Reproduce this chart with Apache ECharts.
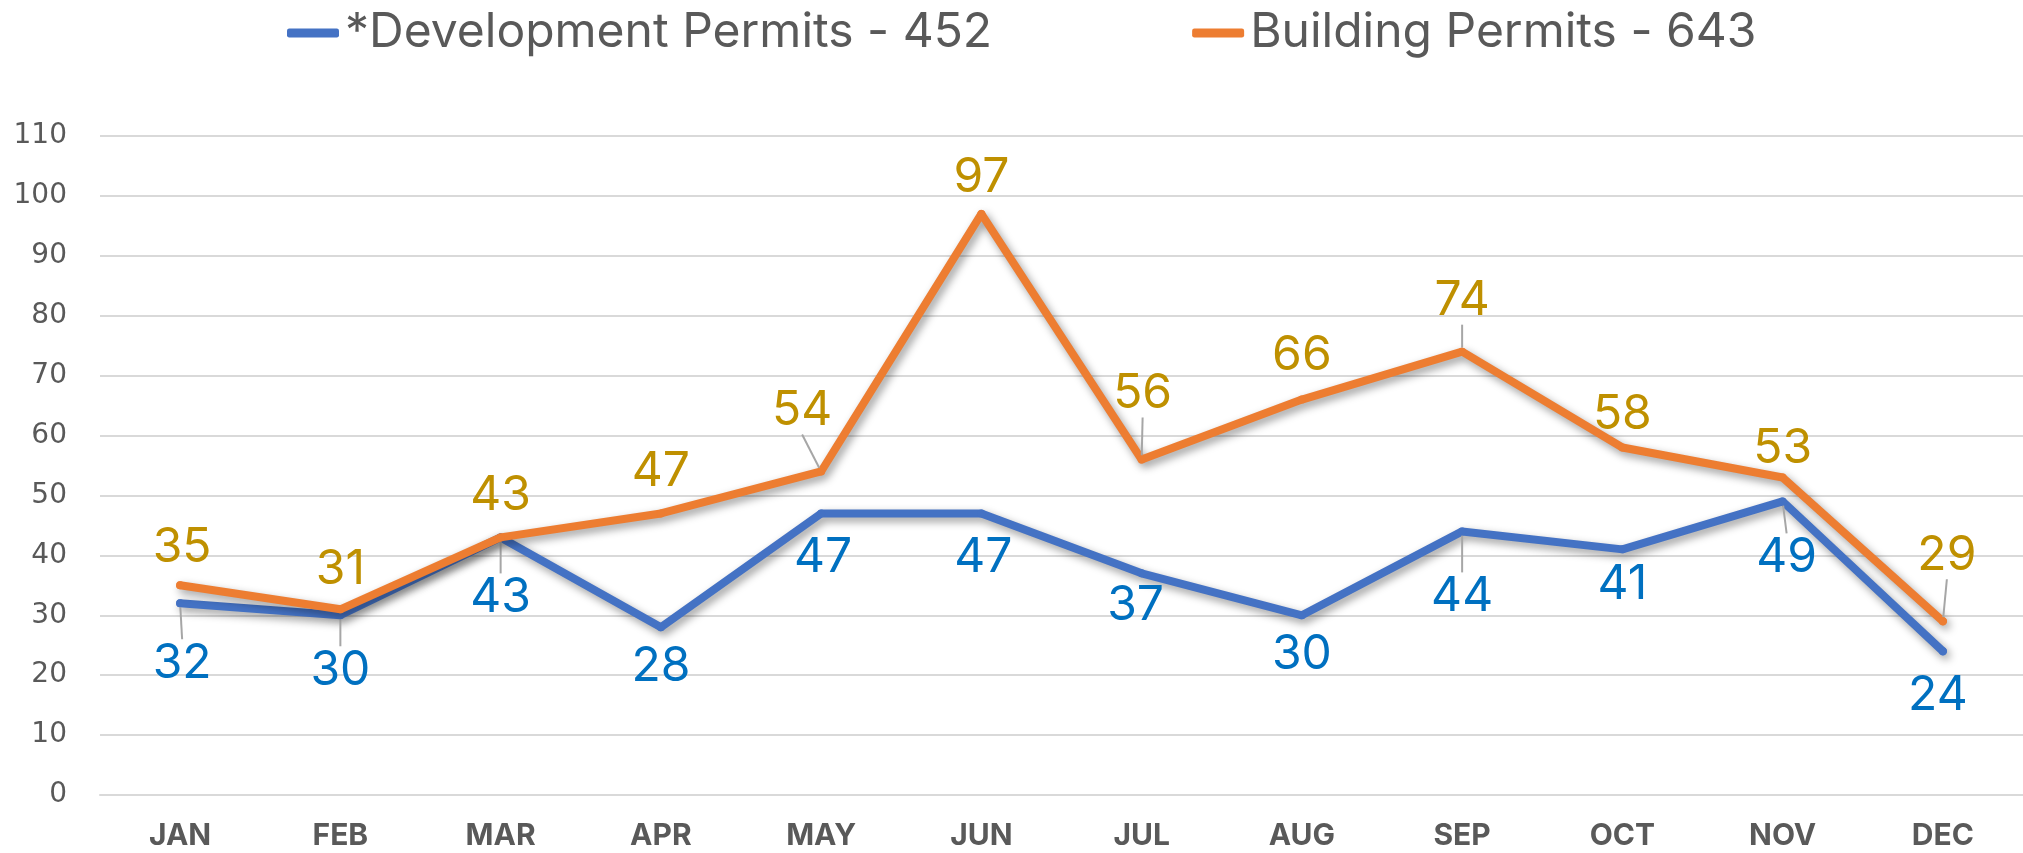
<!DOCTYPE html>
<html>
<head>
<meta charset="utf-8">
<script src="https://cdn.jsdelivr.net/npm/echarts@6/dist/echarts.min.js"></script>
<style>
  html, body { margin: 0; padding: 0; background: #ffffff; }
  #chart { width: 2023px; height: 853px; }
</style>
</head>
<body>
<div id="chart"></div>
<script>
const months = ['JAN', 'FEB', 'MAR', 'APR', 'MAY', 'JUN', 'JUL', 'AUG', 'SEP', 'OCT', 'NOV', 'DEC'];
const developmentPermits = [32, 30, 43, 28, 47, 47, 37, 30, 44, 41, 49, 24];
const buildingPermits = [35, 31, 43, 47, 54, 97, 56, 66, 74, 58, 53, 29];
const yTicks = [0, 10, 20, 30, 40, 50, 60, 70, 80, 90, 100, 110];

// label placement (px offsets from the point), hand tuned like the original
const devLabelDx = [2, 0, 0, 0, 2, 2, -6, 0, 0, 0, 4, -5];
const devLabelDy = [60, 55, 60, 39, 44, 44, 32, 39, 65, 35, 56, 44];
const devLeader = [true, true, true, false, false, false, false, false, true, false, true, false];
const bldLabelDx = [2, 0, 0, 0, -19, 0, 1, 0, 0, 0, 0, 4];
const bldLabelDy = [-38, -40, -42, -42, -61, -36, -66, -44, -51, -33, -29, -66];
const bldLeader = [false, false, false, false, true, false, true, false, true, false, false, true];

const total = arr => arr.reduce((a, b) => a + b, 0);
const devName = '*Development Permits - ' + total(developmentPermits);
const bldName = 'Building Permits - ' + total(buildingPermits);

const chart = echarts.init(document.getElementById('chart'));

const shadow = {
  shadowColor: 'rgba(0, 0, 0, 0.4)',
  shadowBlur: 8,
  shadowOffsetX: 3,
  shadowOffsetY: 4,
};

const makeData = (values, leader) => values.map((v, i) => ({
  value: v,
  labelLine: { show: leader[i] },
}));

chart.setOption({
  animation: false,
  backgroundColor: '#ffffff',
  textStyle: { fontFamily: 'Inter' },
  legend: {
    top: 4,
    left: 282,
    itemGap: 200,
    itemWidth: 52,
    itemHeight: 9,
    icon: 'roundRect',
    data: [devName, bldName],
    textStyle: {
      fontSize: 48,
      color: '#595959',
      fontFamily: 'Inter',
      padding: [0, 0, 0, 1],
    },
  },
  grid: {
    left: 100,
    right: 0,
    top: 136,
    bottom: 58,
  },
  xAxis: {
    type: 'category',
    data: months,
    boundaryGap: true,
    axisLine: { lineStyle: { color: '#D9D9D9', width: 2 } },
    axisTick: { show: false },
    axisLabel: {
      color: '#595959',
      fontSize: 30,
      fontWeight: 'bold',
      fontFamily: 'Inter',
      margin: 26,
    },
  },
  yAxis: {
    type: 'value',
    min: yTicks[0],
    max: yTicks[yTicks.length - 1],
    interval: yTicks[1] - yTicks[0],
    axisLine: { show: false },
    axisTick: { show: false },
    axisLabel: {
      color: '#595959',
      fontSize: 28,
      fontFamily: 'DejaVu Sans',
      margin: 33,
    },
    splitLine: { lineStyle: { color: '#D9D9D9', width: 2 } },
  },
  series: [
    {
      name: devName,
      type: 'line',
      data: makeData(developmentPermits, devLeader),
      symbol: 'circle',
      symbolSize: 8,
      itemStyle: { color: '#4472C4' },
      lineStyle: Object.assign({ color: '#4472C4', width: 8, join: 'round', cap: 'round' }, shadow),
      label: {
        show: true,
        position: 'inside',
        color: '#0070C0',
        fontSize: 48,
        fontFamily: 'Inter',
      },
      labelLine: {
        lineStyle: { color: '#A6A6A6', width: 2 },
      },
      labelLayout: p => ({ dx: devLabelDx[p.dataIndex], dy: devLabelDy[p.dataIndex] }),
      emphasis: { disabled: true },
      z: 2,
    },
    {
      name: bldName,
      type: 'line',
      data: makeData(buildingPermits, bldLeader),
      symbol: 'circle',
      symbolSize: 8,
      itemStyle: { color: '#ED7D31' },
      lineStyle: Object.assign({ color: '#ED7D31', width: 8, join: 'round', cap: 'round' }, shadow),
      label: {
        show: true,
        position: 'inside',
        color: '#BF9000',
        fontSize: 48,
        fontFamily: 'Inter',
      },
      labelLine: {
        lineStyle: { color: '#A6A6A6', width: 2 },
      },
      labelLayout: p => ({ dx: bldLabelDx[p.dataIndex], dy: bldLabelDy[p.dataIndex] }),
      emphasis: { disabled: true },
      z: 3,
    },
  ],
});

window.addEventListener('resize', () => chart.resize());
</script>
</body>
</html>
